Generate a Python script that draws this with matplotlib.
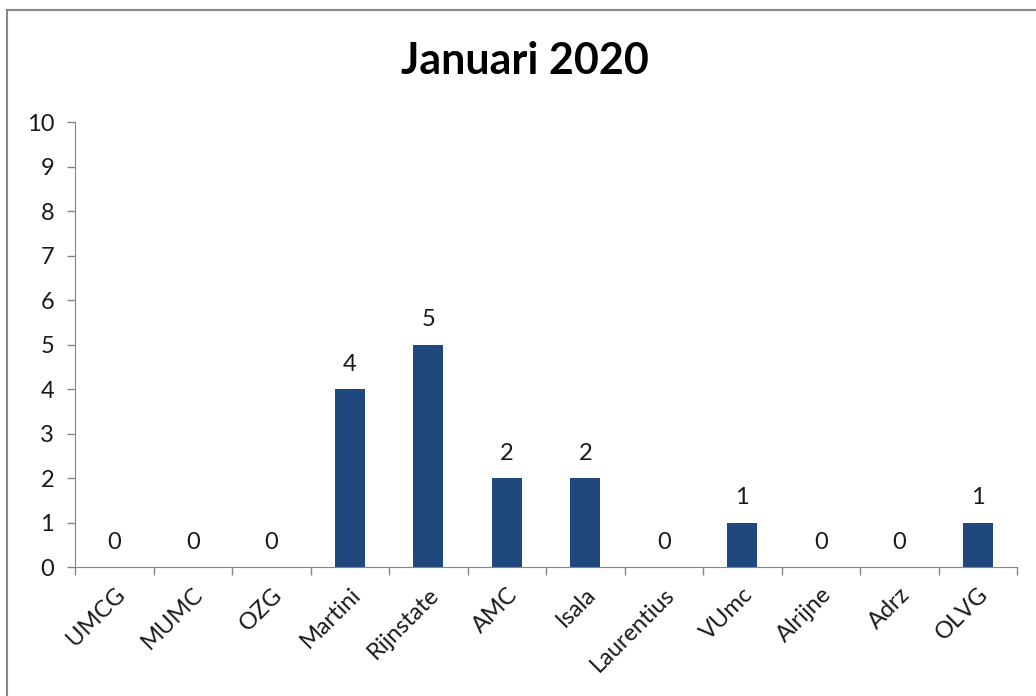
import numpy as np
import matplotlib.pyplot as plt
from matplotlib.lines import Line2D

# Data
hospitals = ['UMCG', 'MUMC', 'OZG', 'Martini', 'Rijnstate', 'AMC', 'Isala',
             'Laurentius', 'VUmc', 'Alrijne', 'Adrz', 'OLVG']
counts = [0, 0, 0, 4, 5, 2, 2, 0, 1, 0, 0, 1]

plt.rcParams['font.family'] = ['Lato', 'DejaVu Sans']

fig = plt.figure(figsize=(10.36, 6.96), dpi=100)
ax = fig.add_axes([0.0724, 0.1853, 0.9093, 0.6394])

x = np.arange(len(hospitals))
bars = ax.bar(x, counts, width=0.38, color='#1F497D')

# data labels above each bar
for xi, v in zip(x, counts):
    ax.annotate(str(v), (xi, v), xytext=(0, 18), textcoords='offset points',
                ha='center', va='center', fontsize=17, color='#1a1a1a')

ax.set_xlim(-0.5, len(hospitals) - 0.5)
ax.set_ylim(0, 10)
ax.set_yticks(range(0, 11))

# category labels in the middle, tick marks between categories
ax.set_xticks(x)
ax.set_xticklabels(hospitals, rotation=45, ha='right', rotation_mode='anchor')
ax.set_xticks(np.arange(-0.5, len(hospitals)), minor=True)
ax.tick_params(axis='x', which='major', length=0, pad=12, labelsize=17,
               labelcolor='#1a1a1a')
ax.tick_params(axis='x', which='minor', length=6, width=1, color='#868686')
ax.tick_params(axis='y', length=6, width=1, color='#868686', labelsize=17,
               pad=9, labelcolor='#1a1a1a')

for side in ['top', 'right']:
    ax.spines[side].set_visible(False)
for side in ['left', 'bottom']:
    ax.spines[side].set_color('#868686')

fig.text(0.507, 0.912, 'Januari 2020', ha='center', va='center',
         fontsize=31, fontweight='bold')

# chart area border (only top/left visible in the crop)
fig.add_artist(Line2D([0.0068, 1.0], [0.9856, 0.9856], color='#888888', lw=1.5))
fig.add_artist(Line2D([0.0068, 0.0068], [0.0, 0.9856], color='#888888', lw=1.5))

plt.savefig('out.png', dpi=100)
